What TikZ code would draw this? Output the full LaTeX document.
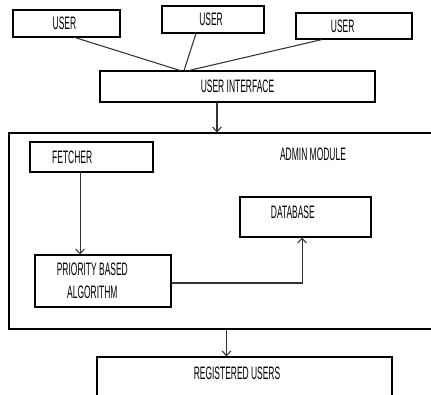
\documentclass[tikz,border=0pt]{standalone}
\usepackage{fontspec}
\newfontfamily\narrowfont[FakeStretch=0.47]{Liberation Sans}
\usepackage{tikz}
\usetikzlibrary{arrows.meta, calc, positioning}
\tikzstyle{block} = [rectangle, draw=black, line width=0.8pt, inner sep=0pt]
\tikzstyle{lbl} = [inner sep=0pt, font=\narrowfont\fontsize{13.5}{16}\selectfont]
\tikzstyle{link} = [line width=0.8pt, draw=black!80]
\tikzstyle{arrow} = [link, -{Straight Barb[length=3.5pt,width=6.5pt]}]

\begin{document}
\begin{tikzpicture}[x=0.75pt, y=-0.75pt]
	\clip (0,0) rectangle (431,394);
	% users on top
	\node (user1) [block, minimum width=80.25pt, minimum height=20.25pt] at (66.5,23.5) {};
	\node (user2) [block, minimum width=76.5pt, minimum height=20.25pt] at (213,19.5) {};
	\node (user3) [block, minimum width=87pt, minimum height=19.5pt] at (354,26) {};
	\node (user1lbl) [lbl] at ([xshift=-1.5pt]user1.center) {USER};
	\node (user2lbl) [lbl] at ([xshift=-1.5pt]user2.center) {USER};
	\node (user3lbl) [lbl] at ([xshift=-8.5pt]user3.center) {USER};
	\node (ui) [block, minimum width=206.25pt, minimum height=23.25pt] at (237.5,86.5) {};
	\node (uilbl) [lbl] at (ui.center) {USER INTERFACE};
	% admin module
	\node (admin) [block, minimum width=322.5pt, minimum height=147pt] at (224,231) {};
	\node (adminlbl) [lbl] at (313,154) {ADMIN MODULE};
	\node (fetcher) [block, minimum width=92.25pt, minimum height=22.5pt] at (91.5,157) {};
	\node (fetcherlbl) [lbl] at ([xshift=-14.5pt]fetcher.center) {FETCHER};
	\node (db) [block, minimum width=98.25pt, minimum height=30pt] at (305.5,217) {};
	\node (dblbl) [lbl] at ([xshift=-9.5pt,yshift=3.5pt]db.center) {DATABASE};
	\node (prio) [block, minimum width=102pt, minimum height=39pt] at (103,281) {};
	\node (priolbl) [lbl, align=center] at ([xshift=-8pt]prio.center) {PRIORITY BASED\\[1pt]ALGORITHM};
	\node (reg) [block, minimum width=221.25pt, minimum height=45pt] at (244.5,387) {};
	\node (reglbl) [lbl] at (237,373) {REGISTERED USERS};
	% connectors
	\draw[link] ([xshift=6.4pt]user1.south) -- ([xshift=-43.1pt]ui.north);
	\draw[link] ([xshift=-12.75pt]user2.south) -- ([xshift=-40.1pt]ui.north);
	\draw[link] ([xshift=-24pt]user3.south) -- ([xshift=-36.4pt]ui.north);
	\draw[arrow] ([xshift=-15.4pt]ui.south) -- ([xshift=-15.4pt]ui.south |- admin.north);
	\draw[arrow] ([xshift=-8.6pt]fetcher.south) -- ([xshift=-8.6pt]fetcher.south |- prio.north);
	\draw[arrow] ([yshift=-1.5pt]prio.east) -| ([xshift=-2.6pt]db.south);
	\draw[arrow] ([xshift=1.9pt]admin.south) -- ([xshift=1.9pt]admin.south |- reg.north);
\end{tikzpicture}
\end{document}
